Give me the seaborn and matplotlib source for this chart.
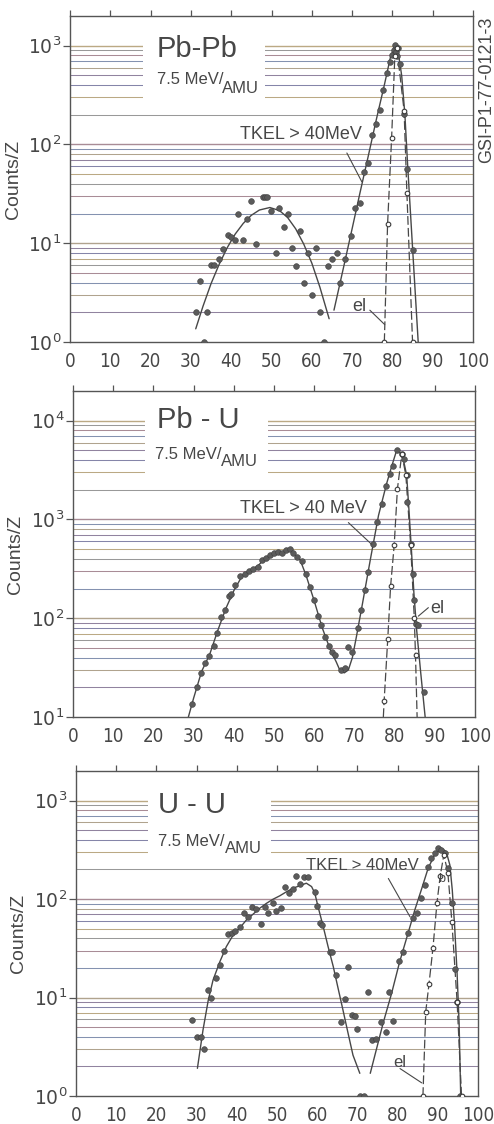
import matplotlib
matplotlib.use("Agg")
import matplotlib.pyplot as plt
import matplotlib.font_manager as fm
from matplotlib.patches import Rectangle
from matplotlib.ticker import FixedLocator, NullLocator, FixedFormatter
import seaborn as sns

# ---------------- data ----------------
z_ticks = [0, 10, 20, 30, 40, 50, 60, 70, 80, 90, 100]

# Pb-Pb, 7.5 MeV/AMU
pbpb_z = [31.2, 32.2, 33.2, 34.0, 34.9, 35.8, 36.9, 38.0, 39.1, 39.9, 41.0, 41.8, 43.0, 43.8,
          45.0, 46.1, 47.8, 48.3, 48.8, 49.8, 51.0, 51.9, 53.1, 54.1, 55.1, 56.2, 57.0, 58.0,
          59.1, 60.1, 61.0, 62.0, 63.0, 64.0, 65.0, 66.3, 67.1, 68.2, 69.8, 70.7, 71.9, 72.9,
          74.0, 75.0, 76.0, 77.0, 77.7, 78.7, 79.3, 80.0, 80.3, 80.7, 81.0, 81.2, 81.4, 81.8,
          82.9, 83.6, 85.0]
pbpb_n = [2.0, 4.1, 1.0, 2.0, 6.0, 6.0, 7.0, 8.8, 12, 11.6, 10.9, 20, 10.9, 17.8,
          26.5, 9.9, 29.5, 29.5, 29.5, 21, 7.9, 23, 14.6, 20, 9.0, 5.9, 13.2, 4.0,
          7.9, 3.0, 9.0, 2.0, 1.0, 5.9, 6.9, 8.0, 4.0, 7.0, 11.8, 23, 25.5, 53,
          65, 124, 163, 223, 356, 525, 690, 800, 900, 1015, 870, 780, 950, 660,
          205, 57, 8.6]
pbpb_el_z = [78.0, 78.8, 79.8, 80.6, 81.1, 82.9, 83.6, 85.0]
pbpb_el_n = [1.0, 15.5, 115, 780, 950, 220, 32, 1.0]
pbpb_fitA_z = [31.2, 33, 35, 37, 39, 41, 43, 45, 47, 49.6, 52, 54, 56, 58, 60, 62, 64.3]
pbpb_fitA_n = [1.36, 2.3, 3.9, 6.1, 9.0, 12.4, 15.9, 19.2, 21.7, 23, 21.4, 18.2, 14.0, 9.8, 6.3, 3.6, 1.72]
pbpb_fitB_z = [65.5, 68, 70, 72, 74, 76, 78, 79.5, 80.6, 81.5, 82.3, 83.1, 83.8, 85.0, 86.4]
pbpb_fitB_n = [2.1, 6.0, 14, 33, 76, 178, 400, 760, 1000, 830, 500, 200, 60, 9, 1.0]

# Pb-U, 7.5 MeV/AMU
pbu_z = [29.7, 30.8, 31.8, 32.8, 33.9, 35.0, 35.8, 36.9, 37.9, 38.7, 39.4, 40.4, 41.6, 42.7,
         43.7, 44.9, 45.9, 47.0, 48.0, 48.9, 49.9, 50.9, 51.9, 53.0, 53.9, 54.7, 55.7, 56.9,
         58.0, 59.0, 60.0, 60.9, 61.6, 62.7, 63.7, 64.5, 65.2, 66.6, 67.7, 68.5, 69.3, 70.8,
         71.7, 72.7, 73.5, 74.7, 75.6, 76.8, 77.9, 78.9, 79.7, 80.5, 81.8, 82.4, 83.0, 83.2,
         84.0, 84.5, 84.8, 85.3, 85.9, 87.2]
pbu_n = [13.4, 20, 28, 35, 41.7, 52, 71, 102, 122, 168, 175, 215, 268, 282,
         300, 312, 330, 385, 407, 433, 457, 468, 457, 486, 503, 457, 417, 380,
         282, 207, 152, 105, 85, 65, 52, 45.7, 42, 30, 31, 51, 45.7, 80,
         120, 191, 294, 568, 940, 1440, 2200, 2890, 3500, 5000, 4600, 4050, 2800, 1500,
         570, 282, 152, 88, 85, 18]
pbu_el_z = [77.2, 77.4, 78.3, 79.0, 79.9, 80.7, 81.8, 82.8, 84.0, 84.9, 85.2, 85.6]
pbu_el_n = [10, 14.6, 62, 210, 550, 2040, 4600, 2800, 550, 100, 42, 10]
pbu_fit_z = [28.7, 30, 32, 34, 36, 38, 40, 42, 44, 46, 48, 50, 52, 53.5, 55, 56.5, 58, 60,
             62, 64, 65.5, 66.5, 67.5, 68.5, 69.5, 70.5, 72, 74, 76, 78, 79.5, 80.5, 81.3,
             82.2, 83.0, 83.6, 84.2, 84.8, 85.5, 86.5, 87.6]
pbu_fit_n = [10, 15.5, 29, 43, 75, 125, 190, 265, 305, 340, 410, 460, 470, 500, 450, 390, 270, 150,
             80, 48, 36, 29, 28, 30, 40, 65, 140, 400, 1100, 2300, 3700, 5000, 4800,
             4000, 2800, 1200, 480, 180, 75, 28, 10]

# U-U, 7.5 MeV/AMU
uu_z = [28.9, 30.0, 31.1, 31.8, 32.9, 33.6, 34.8, 35.8, 36.8, 37.9, 38.7, 39.5, 40.8, 41.8,
        42.8, 43.8, 44.9, 46.0, 47.1, 47.8, 48.9, 49.7, 50.9, 51.9, 52.9, 53.9, 54.8, 55.8,
        56.7, 57.7, 59.4, 60.0, 60.6, 61.2, 63.1, 63.7, 64.8, 65.8, 66.9, 67.7, 68.7, 69.3,
        69.8, 70.6, 71.6, 72.7, 73.7, 74.7, 75.8, 77.0, 77.9, 78.9, 80.3, 81.4, 82.6, 83.8,
        84.8, 85.7, 86.7, 87.6, 88.4, 89.2, 90.1, 90.9, 91.7, 92.5, 93.5, 94.4, 94.8, 95.4]
uu_n = [5.9, 4.0, 4.0, 3.0, 11.9, 10, 15.7, 21.4, 29.7, 43.9, 45.6, 47.8, 52.5, 73,
        66, 84, 79, 55.5, 84, 72, 91, 75, 81, 134, 116, 126, 173, 143,
        166, 166, 119, 85, 57, 55, 29, 29, 17, 5.7, 9.6, 20.6, 6.65, 6.5,
        4.75, 1.0, 1.0, 11.5, 3.7, 3.8, 5.7, 4.5, 11.5, 5.8, 23.7, 29, 45.7, 64.5,
        72, 102, 138, 210, 260, 292, 328, 316, 292, 206, 91, 19.4, 9.1, 1.0]
uu_el_z = [86.3, 87.0, 87.8, 88.8, 89.8, 90.6, 91.5, 92.5, 93.5, 94.8, 95.9]
uu_el_n = [1.0, 7.2, 13.6, 32, 92, 172, 281, 186, 59, 9.1, 1.0]
uu_fitA_z = [30.2, 31.6, 32.9, 34.1, 35.8, 37.4, 39.1, 40.8, 42.4, 44.1, 45.7, 47.4, 49.0, 50.7,
             52.4, 54.0, 55.7, 57.3, 58.6, 59.4, 60.2, 61.5, 62.7, 64.0, 65.2, 66.4, 67.7,
             68.9, 70.6]
uu_fitA_n = [1.91, 4.7, 9.4, 15.1, 23.2, 32.9, 43.2, 51.3, 61.4, 70.6, 80.7, 90.7, 99.6, 108,
             119, 129, 137, 145, 134, 115, 84, 52.5, 33, 20.6, 12.4, 7.5, 4.3, 2.6, 1.7]
uu_fitB_z = [73.2, 76.4, 78.5, 80.5, 82.6, 84.3, 85.9, 87.6, 89.2, 90.9, 92.1, 93.0, 93.6,
             94.2, 94.8, 95.3, 95.7]
uu_fitB_n = [1.7, 5.5, 11, 23, 45, 78, 124, 206, 281, 328, 303, 222, 124, 52, 17.6, 5.5, 1.0]

# ---------------- style ----------------
sns.set_style("white")
fonts = fm.fontManager.ttflist
names = {f.name for f in fonts}
base = "Liberation Sans" if "Liberation Sans" in names else "DejaVu Sans"
plt.rcParams["font.family"] = [base, "DejaVu Sans"]

# a narrow face for the axis numbers, if one is installed
tick_font = dict(family=base, size=12.5)
if "Liberation Sans Narrow" in names:
    tick_font = dict(family="Liberation Sans Narrow", size=14.5)
elif any(f.name == "DejaVu Sans" and str(f.stretch) in ("condensed", "semi-condensed")
         for f in fonts):
    tick_font = dict(family="DejaVu Sans", size=13.5, stretch="condensed")
tick_prop = fm.FontProperties(**tick_font)

plt.rcParams["mathtext.fontset"] = "custom"
plt.rcParams["mathtext.rm"] = tick_prop.get_family()[0]
plt.rcParams["mathtext.default"] = "rm"

INK = "#474747"
DOT = "#5b5b5b"
GRID_COLS = ["#7e6d8e", "#a3937a", "#6f7fa3", "#9a7884", "#878787", "#b09a6e", "#70709a"]

fig = plt.figure(figsize=(4.94, 11.24), dpi=100)


def draw(rect, ylim, decades, title, fits, dots, el_pts, el_line, box, labels, ylabx):
    ax = fig.add_axes(rect)
    ax.set_yscale("log")
    ax.set_xlim(0, 100)
    ax.set_ylim(*ylim)

    # horizontal grid at 1..9 x each decade
    k = 0
    for e in range(decades[0], decades[1]):
        for m in range(1, 10):
            v = m * 10 ** e
            if ylim[0] < v < ylim[1]:
                ax.axhline(v, color=GRID_COLS[k % len(GRID_COLS)], lw=0.75 if m > 1 else 1.0,
                           alpha=0.85, zorder=0.5)
                k += 1
    # blank area behind the reaction label
    ax.add_patch(Rectangle((box[0], box[2]), box[1] - box[0], box[3] - box[2],
                           facecolor="white", edgecolor="none", zorder=1))

    for fz, fn in fits:
        sns.lineplot(x=fz, y=fn, ax=ax, color=INK, lw=1.0, sort=False, estimator=None, zorder=2)
    sns.lineplot(x=el_line[0], y=el_line[1], ax=ax, color=INK, lw=0.9, sort=False,
                 estimator=None, zorder=2)
    ax.lines[-1].set_dashes([7, 2.5])
    sns.scatterplot(x=dots[0], y=dots[1], ax=ax, s=17, color=DOT, edgecolor="#3f3f3f",
                    linewidth=0.4, zorder=3)
    sns.scatterplot(x=el_pts[0], y=el_pts[1], ax=ax, s=11, facecolor="white",
                    edgecolor="#3a3a3a", linewidth=0.8, zorder=4)

    ax.set_xlabel("")
    for s in ax.spines.values():
        s.set_color("#555555")
        s.set_linewidth(1.0)

    ax.xaxis.set_major_locator(FixedLocator(z_ticks))
    ax.xaxis.set_minor_locator(NullLocator())
    ax.set_xticklabels([str(t) for t in z_ticks], fontproperties=tick_prop, color=INK)
    ax.tick_params(axis="x", which="major", bottom=False, top=True, direction="out",
                   length=4, width=0.9, color="#555555", pad=3)
    ax.yaxis.set_minor_locator(NullLocator())
    exps = [e for e in range(decades[0], decades[1]) if ylim[0] <= 10 ** e <= ylim[1]]
    ax.yaxis.set_major_locator(FixedLocator([10 ** e for e in exps]))
    ax.yaxis.set_major_formatter(FixedFormatter([r"$10^{%d}$" % e for e in exps]))
    ax.tick_params(axis="y", which="major", left=True, right=False, direction="out",
                   length=5, width=0.9, color="#555555", pad=1, labelsize=13.5,
                   labelcolor=INK)

    ax.text(title[0], title[1], title[2], transform=ax.transAxes, fontsize=21, color=INK,
            va="center", ha="left", zorder=5)
    ax.text(title[3], title[4], "7.5 MeV/", transform=ax.transAxes, fontsize=12, color=INK,
            va="center", ha="left", zorder=5)
    ax.text(title[5], title[6], "AMU", transform=ax.transAxes, fontsize=12, color=INK,
            va="center", ha="left", zorder=5)

    for txt, tpos, a, b, fs in labels:
        ax.text(tpos[0], tpos[1], txt, fontsize=fs, color=INK, va="center", ha="left", zorder=5)
        ax.annotate("", xy=b, xytext=a,
                    arrowprops=dict(arrowstyle="-", lw=0.8, color=INK, shrinkA=0, shrinkB=0),
                    zorder=5)

    ax.set_ylabel("Counts/Z", fontsize=14, color=INK)
    ax.yaxis.set_label_coords(ylabx, 0.5)
    return ax


ax1 = draw([70 / 494, 1 - 342 / 1124, 403 / 494, 326 / 1124], (1, 2000), (0, 4),
           (0.216, 0.899, "Pb-Pb", 0.216, 0.804, 0.378, 0.779),
           [(pbpb_fitA_z, pbpb_fitA_n), (pbpb_fitB_z, pbpb_fitB_n)],
           (pbpb_z, pbpb_n), (pbpb_el_z, pbpb_el_n), (pbpb_el_z, pbpb_el_n),
           (18, 48.5, 280, 1150),
           [("TKEL > 40MeV", (42.2, 125), (68.7, 82), (72.4, 42), 13),
            ("el", (70.1, 2.28), (74.4, 2.1), (78.1, 1.5), 13)],
           -0.119)

ax2 = draw([73 / 494, 1 - 717 / 1124, 402 / 494, 326 / 1124], (10, 20000), (1, 5),
           (0.208, 0.911, "Pb - U", 0.204, 0.804, 0.368, 0.783),
           [(pbu_fit_z, pbu_fit_n)],
           (pbu_z, pbu_n), (pbu_el_z[1:-1], pbu_el_n[1:-1]), (pbu_el_z, pbu_el_n),
           (18, 48.5, 2800, 10800),
           [("TKEL > 40 MeV", (41.6, 1280), (68.5, 930), (74.3, 560), 13),
            ("el", (88.8, 125), (88.4, 128), (85.9, 105), 13)],
           -0.122)

ax3 = draw([76 / 494, 1 - 1096 / 1124, 402 / 494, 325 / 1124], (1, 2000), (0, 4),
           (0.205, 0.895, "U - U", 0.205, 0.782, 0.371, 0.762),
           [(uu_fitA_z, uu_fitA_n), (uu_fitB_z, uu_fitB_n)],
           (uu_z, uu_n), (uu_el_z, uu_el_n), (uu_el_z, uu_el_n),
           (18, 48.5, 280, 1080),
           [("TKEL > 40MeV", (57.2, 221), (77.7, 162), (83.1, 66), 12),
            ("el", (78.9, 2.2), (80.6, 1.9), (86.0, 1.36), 12)],
           -0.122)
ax3.text(90.0, 160, "b", fontsize=9, color=INK, va="center", ha="left", zorder=5)

fig.text(487 / 494, 1 - 90 / 1124, "GSI-P1-77-0121-3", rotation=90, fontsize=13,
         color=INK, ha="center", va="center")

fig.savefig("out.png", dpi=100, facecolor="white")
